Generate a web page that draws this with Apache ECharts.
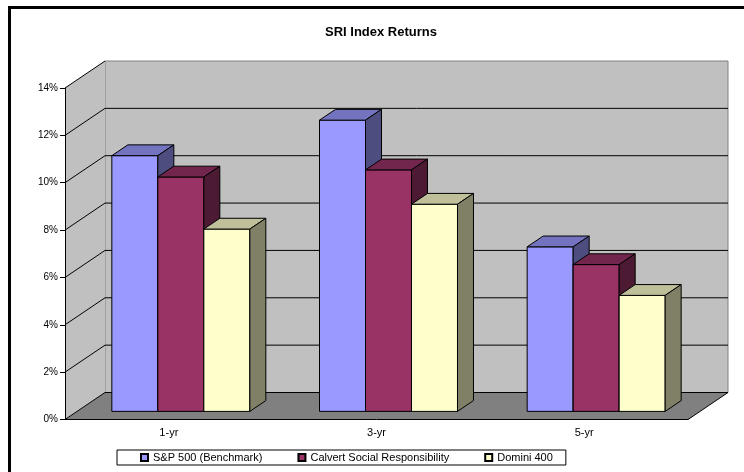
<!DOCTYPE html>
<html>
<head>
<meta charset="utf-8">
<script src="https://cdn.jsdelivr.net/npm/echarts@6/dist/echarts.min.js"></script>
<style>
  html, body { margin: 0; padding: 0; background: #fff; }
  #chart { width: 744px; height: 472px; }
</style>
</head>
<body>
<div id="chart"></div>
<script>
const categories = ['1-yr', '3-yr', '5-yr'];
const seriesNames = ['S&P 500 (Benchmark)', 'Calvert Social Responsibility', 'Domini 400'];
const sp500 = [10.8, 12.3, 6.95];
const calvert = [9.9, 10.2, 6.2];
const domini = [7.7, 8.75, 4.9];
const yTicks = [0, 2, 4, 6, 8, 10, 12, 14];

const FONT = 'Arial, "Liberation Sans", sans-serif';
// oblique depth of the whole plot (px) and where the bars sit inside it
const DX = 40, DY = -27;
const BAR_FRONT = 0.3, BAR_BACK = 0.7;
const BAR_RATIO = 0.2215;

const faces = [
  { front: '#9999FF', top: '#7373BF', side: '#4D4D80' },
  { front: '#993366', top: '#73264D', side: '#4D1A33' },
  { front: '#FFFFCC', top: '#BFBF99', side: '#808066' }
];

const chart = echarts.init(document.getElementById('chart'));

function renderWalls(params, api) {
  const cs = params.coordSys;
  const x0 = cs.x, x1 = cs.x + cs.width;
  const y0 = api.coord([0, 0])[1];
  const yTop = api.coord([0, 14])[1];
  const children = [];
  // back wall
  children.push({
    type: 'rect',
    shape: { x: x0 + DX, y: yTop + DY, width: cs.width, height: y0 - yTop },
    style: { fill: '#C0C0C0', stroke: '#808080', lineWidth: 1 }
  });
  // side wall
  children.push({
    type: 'polygon',
    shape: { points: [[x0, yTop], [x0 + DX, yTop + DY], [x0 + DX, y0 + DY], [x0, y0]] },
    style: { fill: '#C0C0C0', stroke: null }
  });
  // floor
  children.push({
    type: 'polygon',
    shape: { points: [[x0, y0], [x0 + DX, y0 + DY], [x1 + DX, y0 + DY], [x1, y0]] },
    style: { fill: '#808080', stroke: null }
  });
  yTicks.forEach(function (v) {
    const y = api.coord([0, v])[1];
    children.push({
      type: 'line',
      shape: { x1: x0, y1: y, x2: x0 + DX, y2: y + DY },
      style: { stroke: '#000', lineWidth: 1 }
    });
    if (v < 14) {
      children.push({
        type: 'line',
        shape: { x1: x0 + DX, y1: y + DY, x2: x1 + DX, y2: y + DY },
        style: { stroke: '#000', lineWidth: 1 }
      });
    }
  });
  children.push({
    type: 'line',
    shape: { x1: x1, y1: y0, x2: x1 + DX, y2: y0 + DY },
    style: { stroke: '#000', lineWidth: 1 }
  });
  return { type: 'group', children: children };
}

function makeBarRenderer(s) {
  return function (params, api) {
    const i = api.value(0);
    const top = api.coord([i, api.value(1)]);
    const base = api.coord([i, 0]);
    const w = api.size([1, 0])[0] * BAR_RATIO;
    const x = top[0] - 1.5 * w + s * w + BAR_FRONT * DX;
    const yT = top[1] + BAR_FRONT * DY;
    const yB = base[1] + BAR_FRONT * DY;
    const dx = (BAR_BACK - BAR_FRONT) * DX;
    const dy = (BAR_BACK - BAR_FRONT) * DY;
    const c = faces[s];
    const edge = { stroke: '#000', lineWidth: 1, lineJoin: 'miter' };
    return {
      type: 'group',
      children: [
        { type: 'rect', shape: { x: x, y: yT, width: w, height: yB - yT },
          style: Object.assign({ fill: c.front }, edge) },
        { type: 'polygon', shape: { points: [[x, yT], [x + dx, yT + dy], [x + w + dx, yT + dy], [x + w, yT]] },
          style: Object.assign({ fill: c.top }, edge) },
        { type: 'polygon', shape: { points: [[x + w, yT], [x + w + dx, yT + dy], [x + w + dx, yB + dy], [x + w, yB]] },
          style: Object.assign({ fill: c.side }, edge) }
      ]
    };
  };
}

const values = [sp500, calvert, domini];

const barSeries = values.map(function (vals, s) {
  return {
    name: seriesNames[s],
    type: 'custom',
    z: 3,
    itemStyle: { color: faces[s].front, borderColor: '#000', borderWidth: 1 },
    renderItem: makeBarRenderer(s),
    data: vals.map(function (v, i) { return [i, v]; })
  };
});

const option = {
  animation: false,
  backgroundColor: '#fff',
  title: {
    text: 'SRI Index Returns',
    left: 376,
    textAlign: 'center',
    top: 21,
    textStyle: { fontFamily: FONT, fontSize: 13, fontWeight: 'bold', color: '#000' }
  },
  legend: {
    data: seriesNames,
    left: 117,
    top: 450,
    padding: [2, 13, 2, 23],
    itemGap: 35,
    itemWidth: 7,
    itemHeight: 7,
    icon: 'rect',
    borderColor: '#000',
    borderWidth: 1,
    textStyle: { fontFamily: FONT, fontSize: 11, color: '#000' }
  },
  grid: { left: 65, right: 56, top: 88, bottom: 52.5 },
  xAxis: {
    type: 'category',
    data: categories,
    z: 10,
    axisLine: { lineStyle: { color: '#000', width: 1 } },
    axisTick: { length: 5, lineStyle: { color: '#000' } },
    axisLabel: { fontFamily: FONT, fontSize: 11, color: '#000', margin: 8 },
    splitLine: { show: false }
  },
  yAxis: {
    type: 'value',
    min: 0,
    max: 14,
    interval: 2,
    z: 10,
    axisLine: { show: true, lineStyle: { color: '#000', width: 1 } },
    axisTick: { show: true, length: 5, lineStyle: { color: '#000' } },
    axisLabel: { fontFamily: FONT, fontSize: 10, color: '#000', margin: 7, formatter: '{value}%' },
    splitLine: { show: false }
  },
  graphic: [{
    type: 'rect',
    shape: { x: 9.5, y: 7.5, width: 800, height: 500 },
    style: { fill: null, stroke: '#000', lineWidth: 3 },
    silent: true
  }],
  series: [{
    name: 'walls',
    type: 'custom',
    z: 1,
    silent: true,
    renderItem: renderWalls,
    data: [[0, 0]]
  }].concat(barSeries)
};

chart.setOption(option);
</script>
</body>
</html>
